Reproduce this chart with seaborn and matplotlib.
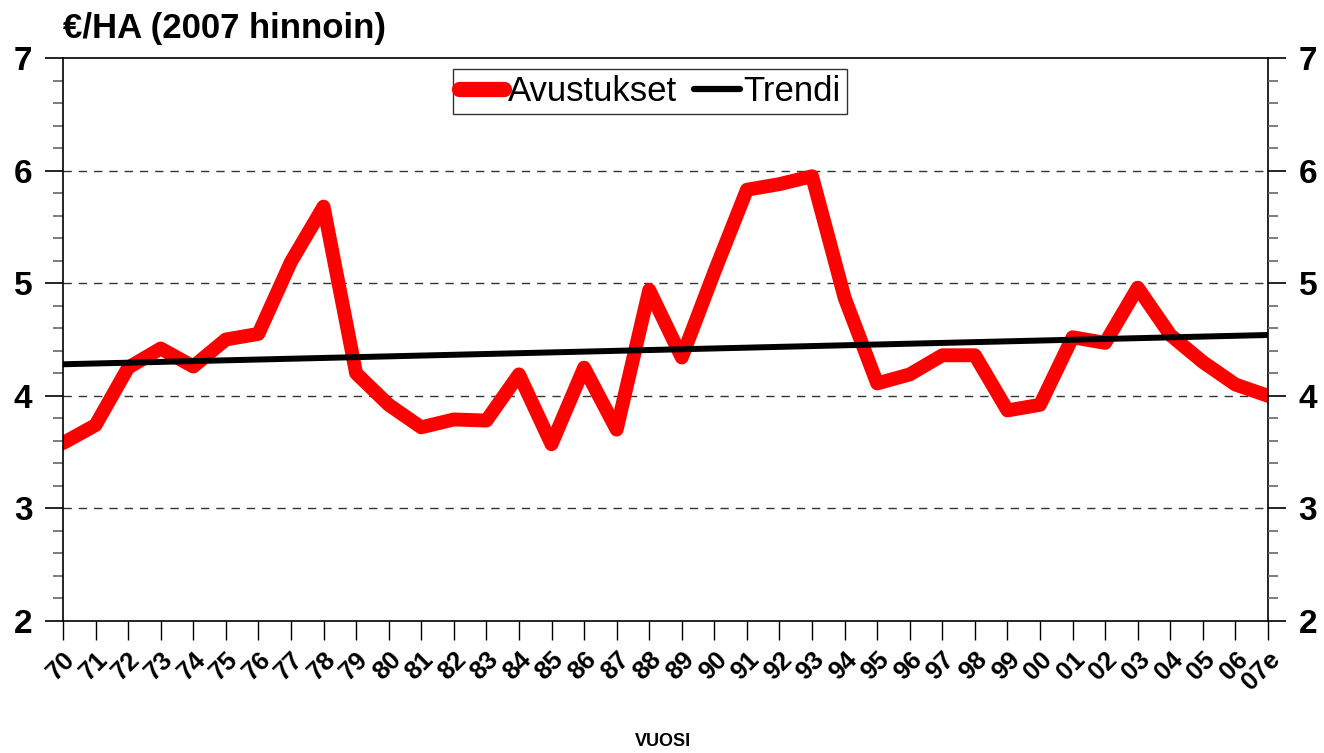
import numpy as np
import pandas as pd
import matplotlib
matplotlib.use("Agg")
import matplotlib.pyplot as plt
import seaborn as sns
from matplotlib.ticker import MultipleLocator

years = ['70', '71', '72', '73', '74', '75', '76', '77', '78', '79',
         '80', '81', '82', '83', '84', '85', '86', '87', '88', '89',
         '90', '91', '92', '93', '94', '95', '96', '97', '98', '99',
         '00', '01', '02', '03', '04', '05', '06', '07e']
avustukset = [3.58, 3.74, 4.25, 4.42, 4.26, 4.50, 4.55, 5.19, 5.68, 4.20,
              3.92, 3.72, 3.79, 3.78, 4.19, 3.57, 4.25, 3.70, 4.94, 4.34,
              5.10, 5.83, 5.88, 5.95, 4.87, 4.11, 4.19, 4.36, 4.36, 3.87,
              3.92, 4.52, 4.47, 4.96, 4.54, 4.30, 4.10, 4.00]
trend_years = ['70', '07e']
trend_values = [4.28, 4.54]

sns.set_theme(style="white")
plt.rcParams['font.family'] = ['Liberation Sans', 'DejaVu Sans']
plt.rcParams['text.color'] = 'black'
plt.rcParams['xtick.color'] = 'black'
plt.rcParams['ytick.color'] = 'black'

df = pd.DataFrame({'pos': np.arange(len(years)), 'value': avustukset})
dft = pd.DataFrame({'pos': [years.index(y) for y in trend_years], 'value': trend_values})

fig = plt.figure(figsize=(13.24, 7.53), dpi=100)
ax = fig.add_axes([63/1324, 1-621/753, (1268-63)/1324, (621-58)/753])

sns.lineplot(data=df, x='pos', y='value', ax=ax, color='#ff0000', linewidth=10,
             solid_capstyle='round', solid_joinstyle='round', label='Avustukset')
sns.lineplot(data=dft, x='pos', y='value', ax=ax, color='black', linewidth=4.3,
             solid_capstyle='round', label='Trendi')

ax.set_xlim(0, len(years) - 1)
ax.set_ylim(2, 7)
ax.set_xticks(np.arange(len(years)))
ax.set_xticklabels(years, rotation=45, ha='right', rotation_mode='anchor',
                   fontsize=18.5, fontweight='bold', color='black')
ax.set_yticks([2, 3, 4, 5, 6, 7])
ax.yaxis.set_minor_locator(MultipleLocator(0.2))
ax.tick_params(axis='y', which='major', direction='out', length=13, width=1.2,
               color='black', labelsize=24, pad=9, left=True, labelcolor='black')
ax.tick_params(axis='y', which='minor', direction='out', length=7, width=1.2,
               color='#666666', left=True)
ax.tick_params(axis='x', which='major', direction='out', length=14, width=1.0,
               color='black', bottom=True, pad=5, labelcolor='black')
for lab in ax.get_yticklabels():
    lab.set_fontweight('bold')

for y in [3, 4, 5, 6]:
    ax.axhline(y, color='#333333', linestyle=(0, (6, 5)), linewidth=1.0, zorder=0)

for sp in ax.spines.values():
    sp.set_visible(True)
    sp.set_color('black')
    sp.set_linewidth(1.2)

ax.set_xlabel('')
ax.set_ylabel('')

ax2 = ax.twinx()
ax2.set_ylim(2, 7)
ax2.set_yticks([2, 3, 4, 5, 6, 7])
ax2.yaxis.set_minor_locator(MultipleLocator(0.2))
ax2.tick_params(axis='y', which='major', direction='out', length=13, width=1.2,
                color='black', labelsize=24, pad=9, right=True, labelcolor='black')
ax2.tick_params(axis='y', which='minor', direction='out', length=7, width=1.2,
                color='#666666', right=True)
for lab in ax2.get_yticklabels():
    lab.set_fontweight('bold')
ax2.grid(False)
for sp in ax2.spines.values():
    sp.set_visible(False)

leg = ax.legend(loc='upper center', bbox_to_anchor=(0.487, 0.981), ncol=2,
                fontsize=25, frameon=True, fancybox=False, handlelength=1.3,
                handletextpad=0.1, columnspacing=0.5, borderpad=0.18,
                borderaxespad=0)
leg.get_frame().set_edgecolor('black')
leg.get_frame().set_linewidth(1.0)
for t in leg.get_texts():
    t.set_color('black')
for h in leg.get_lines():
    if h.get_color() == 'black':
        h.set_linewidth(4.5)
    else:
        h.set_linewidth(11)

fig.text(63/1324, 1-12/753, '€/HA (2007 hinnoin)', fontsize=25, fontweight='bold',
         ha='left', va='top', color='black')
fig.text(663/1324, 1-742/753, 'VUOSI', fontsize=13, fontweight='bold',
         ha='center', va='center', color='black')

fig.savefig('out.png', dpi=100)
